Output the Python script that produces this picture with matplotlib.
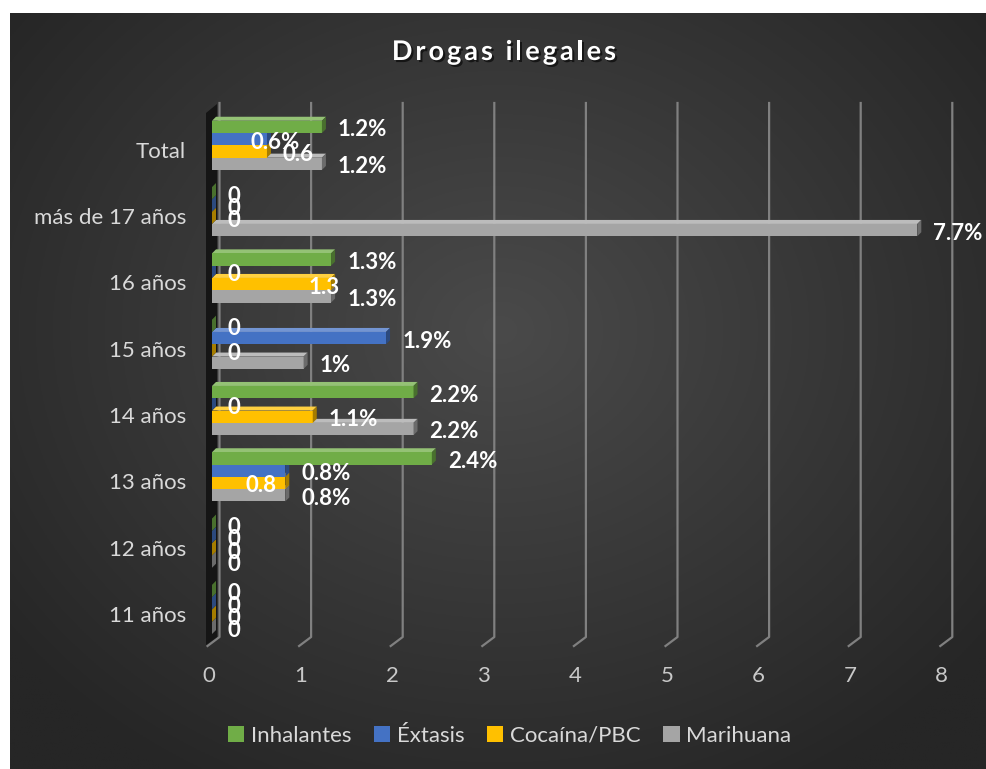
import numpy as np
import matplotlib
matplotlib.use("Agg")
import matplotlib.pyplot as plt
from matplotlib.patches import Polygon, Rectangle
from matplotlib.transforms import ScaledTranslation
import matplotlib.patheffects as pe
from matplotlib.colors import to_rgb

plt.rcParams['font.family'] = ['Lato', 'DejaVu Sans']

# ---------------- data ----------------
title = "Drogas ilegales"
categories = ["11 años", "12 años", "13 años", "14 años", "15 años",
              "16 años", "más de 17 años", "Total"]
series = ["Inhalantes", "Éxtasis", "Cocaína/PBC", "Marihuana"]
inhalantes = [0, 0, 2.4, 2.2, 0, 1.3, 0, 1.2]
extasis = [0, 0, 0.8, 0, 1.9, 0, 0, 0.6]
cocaina = [0, 0, 0.8, 1.1, 0, 1.3, 0, 0.6]
marihuana = [0, 0, 0.8, 2.2, 1.0, 1.3, 7.7, 1.2]
inhalantes_labels = ["0", "0", "2.4%", "2.2%", "0", "1.3%", "0", "1.2%"]
extasis_labels = ["0", "0", "0.8%", "0", "1.9%", "0", "0", "0.6%"]
cocaina_labels = ["0", "0", "0.8", "1.1%", "0", "1.3", "0", "0.6"]
marihuana_labels = ["0", "0", "0.8%", "2.2%", "1%", "1.3%", "7.7%", "1.2%"]
x_ticks = [0, 1, 2, 3, 4, 5, 6, 7, 8]

values = [inhalantes, extasis, cocaina, marihuana]
labels = [inhalantes_labels, extasis_labels, cocaina_labels, marihuana_labels]

# ---------------- style ----------------
colors = ["#70AD47", "#4472C4", "#FFC000", "#A5A5A5"]
# horizontal label nudges (pixels) where the original moved labels
label_nudge = {(7, 1): -32, (5, 2): -39, (2, 2): -56}

W, H = 986, 769
fig = plt.figure(figsize=(W / 100, H / 100), dpi=100)
fig.patch.set_facecolor("white")

# background radial gradient
bg = fig.add_axes([10 / W, 0, (W - 10) / W, (H - 13) / H], zorder=-10)
gy, gx = np.mgrid[0:400, 0:500]
px = gx / 499 * (W - 10) + 10
py = gy / 399 * (H - 13) + 13
r = np.sqrt(((px - 500) / 620) ** 2 + ((py - 330) / 520) ** 2)
t = np.clip(r, 0, 1)[..., None]
c_in = np.array(to_rgb("#4a4a4a"))
c_out = np.array(to_rgb("#262626"))
img = c_in * (1 - t) + c_out * t
bg.imshow(img, extent=[0, 1, 0, 1], aspect="auto", origin="upper")
bg.axis("off")

# main axes geometry (pixels)
x0px, sx = 212.0, 91.6
yc0, sy = 614.0, 66.3
pl, pr, pt, pb = 200, 970, 95, 655
ax = fig.add_axes([pl / W, 1 - pb / H, (pr - pl) / W, (pb - pt) / H])
ax.set_xlim((pl - x0px) / sx, (pr - x0px) / sx)
ax.set_ylim((yc0 - pb) / sy, (yc0 - pt) / sy)
ax.patch.set_alpha(0)
for s in ax.spines.values():
    s.set_visible(False)


def ypx(p):
    return (yc0 - p) / sy


def xpx(p):
    return (p - x0px) / sx


# gridlines with 3D floor tails
for v in x_ticks:
    bx = v + 7.5 / sx
    ax.plot([bx, bx, v - 4.5 / sx], [ypx(103), ypx(637), ypx(646)],
            color="#808080", lw=1.6, clip_on=False, zorder=1)

# left wall
wall = Polygon([(xpx(206), ypx(113)), (xpx(217), ypx(104)),
                (xpx(217), ypx(637)), (xpx(206), ypx(645))],
               closed=True, facecolor="#151515", edgecolor="none", zorder=1.5)
ax.add_patch(wall)

bh = 12.3 / sy
ddx, ddy = 4.0 / sx, 4.0 / sy
ypos = np.arange(len(categories))


def mix(c, other, f):
    c = np.array(to_rgb(c))
    return tuple(c * (1 - f) + np.array(other) * f)


for j in [3, 2, 1, 0]:
    off = (23 - 12.3 * j) / sy
    yy = ypos + off
    vals = values[j]
    ax.barh(yy, vals, height=bh, left=0, color=colors[j], zorder=2 + (3 - j) * 0.1,
            edgecolor="none")
    for i, v in enumerate(vals):
        yt = yy[i] + bh / 2
        yb = yy[i] - bh / 2
        top = Polygon([(0, yt), (ddx, yt + ddy), (v + ddx, yt + ddy), (v, yt)],
                      closed=True, facecolor=mix(colors[j], (1, 1, 1), 0.25),
                      edgecolor="none", zorder=2 + (3 - j) * 0.1 - 0.01)
        end = Polygon([(v, yb), (v + ddx, yb + ddy), (v + ddx, yt + ddy), (v, yt)],
                      closed=True, facecolor=mix(colors[j], (0, 0, 0), 0.35),
                      edgecolor="none", zorder=2 + (3 - j) * 0.1)
        ax.add_patch(top)
        ax.add_patch(end)

# data labels
for j in range(4):
    off = (23 - 12.3 * j) / sy
    for i, v in enumerate(values[j]):
        dxp = 16 + label_nudge.get((i, j), 0)
        ax.annotate(labels[j][i], (v, ypos[i] + off), xytext=(dxp * 0.72, -3 * 0.72),
                    textcoords="offset points", ha="left", va="center",
                    color="white", fontsize=16, fontweight="bold", zorder=10,
                    annotation_clip=False)

# axes ticks
ax.set_yticks(ypos)
ax.set_yticklabels(categories)
ax.set_xticks(x_ticks)
ax.set_xticklabels([str(v) for v in x_ticks])
ax.tick_params(axis="y", length=0, pad=10, labelsize=16, labelcolor="#d9d9d9")
ax.tick_params(axis="x", length=0, pad=8, labelsize=16, labelcolor="#c8c8c8")
for lbl in ax.get_xticklabels():
    lbl.set_transform(lbl.get_transform() + ScaledTranslation(-3 / 100, 0, fig.dpi_scale_trans))

# title with letter spacing
renderer = fig.canvas.get_renderer()
tprops = dict(fontsize=19.5, fontweight="bold", color="white")
ls = 3.0


def tw(s):
    tt = fig.text(0, 0, s + "|", **tprops)
    w1 = tt.get_window_extent(renderer).width
    tt.remove()
    tt = fig.text(0, 0, "|", **tprops)
    w2 = tt.get_window_extent(renderer).width
    tt.remove()
    return w1 - w2


total_w = tw(title) + ls * (len(title) - 1)
start = 504 - total_w / 2
for k, ch in enumerate(title):
    if ch == " ":
        continue
    xk = start + tw(title[:k]) + ls * k
    fig.text(xk / W, 1 - 52 / H, ch, ha="left", va="center", **tprops,
             path_effects=[pe.SimplePatchShadow(offset=(1.5, -1.5), shadow_rgbFace="black", alpha=0.6),
                           pe.Normal()])

# legend
handles = [Rectangle((0, 0), 1, 1, facecolor=c, edgecolor="none") for c in colors]
fig.legend(handles, series, loc="center", bbox_to_anchor=(509.5 / W, 1 - 736 / H),
           ncol=4, frameon=False, fontsize=16, labelcolor="#d9d9d9",
           handlelength=0.75, handleheight=0.75, handletextpad=0.3, columnspacing=1.0)

fig.savefig("out.png", dpi=100, facecolor=fig.get_facecolor())
